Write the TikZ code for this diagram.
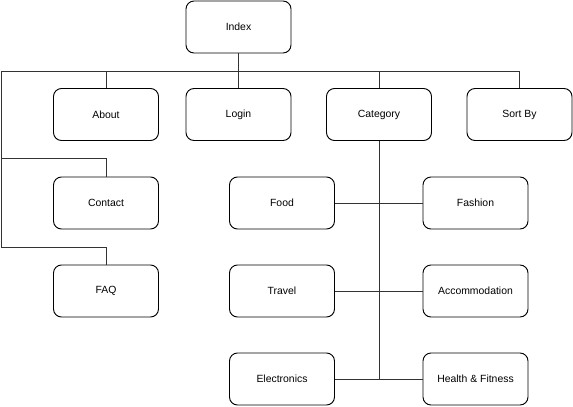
\documentclass[tikz,border=0pt]{standalone}
\usepackage{fontspec}
\setmainfont{Liberation Sans}
\tikzset{
  page/.style={draw, rounded corners=8*0.03cm, line width=0.8pt,
    minimum width=105*0.03cm, minimum height=52*0.03cm,
    font=\fontsize{8.9}{10}\selectfont, inner sep=0pt},
  link/.style={line width=0.8pt, color=black!80}
}
\begin{document}
\begin{tikzpicture}[x=0.03cm, y=-0.03cm]
\useasboundingbox (0,0) rectangle (573,406);
\node[page] (idx) at (238.5, 27) {Index};
\node[page] (about) at (106, 114.5) {About};
\node[page] (login) at (238.5, 114.5) {Login};
\node[page] (cat) at (379, 114.5) {Category};
\node[page] (sort) at (519.5, 114.5) {Sort By};
\node[page] (contact) at (106, 203) {Contact};
\node[page] (faq) at (106, 291) {FAQ};
\node[page] (food) at (282, 203) {Food};
\node[page] (fashion) at (475.5, 203) {Fashion};
\node[page] (travel) at (282, 291) {Travel};
\node[page] (accom) at (475.5, 291) {Accommodation};
\node[page] (elec) at (282, 379) {Electronics};
\node[page] (health) at (475.5, 379) {Health \& Fitness};
\coordinate (busL) at (1, 71);
\coordinate (busR) at (519.5, 71);
\coordinate (lbend1) at (1, 158.5);
\coordinate (lbend2) at (1, 247);
\draw[link] (busL) -- (busR);
\draw[link] (idx.south) -- (login.north);
\draw[link] (about.north) -- (about.north |- busL);
\draw[link] (cat.north) -- (cat.north |- busL);
\draw[link] (sort.north) -- (busR);
\draw[link] (busL) -- (lbend2) -| (faq.north);
\draw[link] (lbend1) -| (contact.north);
\draw[link] (cat.south) -- (cat.south |- elec.east);
\draw[link] (food.east) -- (fashion.west);
\draw[link] (travel.east) -- (accom.west);
\draw[link] (elec.east) -- (health.west);
\end{tikzpicture}
\end{document}
